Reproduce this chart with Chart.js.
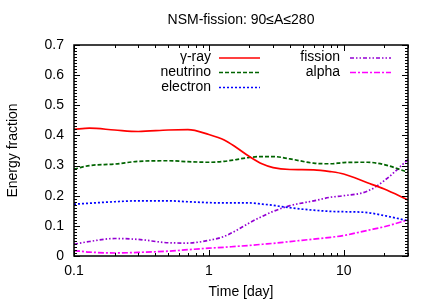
<!DOCTYPE html>
<html>
<head>
<meta charset="utf-8">
<script src="https://cdn.jsdelivr.net/npm/chart.js@4/dist/chart.umd.min.js"></script>
<style>
  html, body { margin: 0; padding: 0; background: #fff; }
  #wrap { width: 436px; height: 305px; }
</style>
</head>
<body>
<div id="wrap"><canvas id="graph"></canvas></div>
<script>
const days     = [0.1, 0.13, 0.2, 0.3, 0.5, 0.7, 1, 1.3, 1.6, 2, 2.5, 3, 4, 6, 8, 10, 15, 20, 30];
const gammaRay = [0.420, 0.424, 0.418, 0.413, 0.418, 0.419, 0.403, 0.385, 0.360, 0.330, 0.305, 0.293, 0.287, 0.286, 0.280, 0.272, 0.243, 0.222, 0.186];
const neutrino = [0.288, 0.300, 0.305, 0.314, 0.316, 0.313, 0.311, 0.314, 0.320, 0.327, 0.330, 0.330, 0.322, 0.308, 0.306, 0.310, 0.311, 0.303, 0.278];
const electron = [0.172, 0.175, 0.180, 0.183, 0.183, 0.180, 0.177, 0.176, 0.176, 0.176, 0.172, 0.168, 0.160, 0.152, 0.148, 0.147, 0.144, 0.134, 0.117];
const fission  = [0.039, 0.048, 0.058, 0.055, 0.044, 0.043, 0.052, 0.065, 0.085, 0.110, 0.132, 0.148, 0.167, 0.183, 0.195, 0.200, 0.215, 0.250, 0.320];
const alpha    = [0.018, 0.013, 0.010, 0.012, 0.016, 0.021, 0.026, 0.029, 0.032, 0.035, 0.039, 0.042, 0.048, 0.056, 0.062, 0.068, 0.085, 0.097, 0.120];

const yTicks = [0, 0.1, 0.2, 0.3, 0.4, 0.5, 0.6, 0.7];
const xTicks = [0.1, 1, 10];

const FONT = "'Liberation Sans', Arial, sans-serif";

function pts(values) {
    return days.map((d, i) => ({x: d, y: values[i]}));
}

function series(label, values, color, dash) {
    return {
        label: label,
        data: pts(values),
        borderColor: color,
        backgroundColor: color,
        borderWidth: 1.7,
        borderDash: dash,
        pointRadius: 0,
        cubicInterpolationMode: "monotone",
        fill: false
    };
}

// gnuplot style frame: box, inward ticks on all sides, in-plot legend, title
const frame = {
    id: "frame",
    afterDatasetsDraw(chart) {
        const ctx = chart.ctx;
        const a = chart.chartArea;
        const xs = chart.scales.x, ys = chart.scales.y;
        ctx.save();
        ctx.strokeStyle = "#000";
        ctx.lineWidth = 1;
        ctx.setLineDash([]);
        ctx.beginPath();

        // y ticks
        for (let i = 0; i <= 70; i++) {
            const v = i / 100;
            const py = Math.round(ys.getPixelForValue(v)) + 0.5;
            const len = (i % 10 === 0) ? 6 : 3;
            ctx.moveTo(a.left, py); ctx.lineTo(a.left + len, py);
            ctx.moveTo(a.right, py); ctx.lineTo(a.right - len, py);
        }
        // x ticks (log)
        for (let dec = 0.1; dec < 100; dec *= 10) {
            for (let m = 1; m <= 9; m++) {
                const v = dec * m;
                if (v < xs.min - 1e-9 || v > xs.max + 1e-9) continue;
                const px = Math.round(xs.getPixelForValue(v)) + 0.5;
                const len = (m === 1) ? 6 : 3;
                ctx.moveTo(px, a.bottom); ctx.lineTo(px, a.bottom - len);
                ctx.moveTo(px, a.top); ctx.lineTo(px, a.top + len);
            }
        }
        ctx.stroke();

        ctx.lineWidth = 1.5;
        ctx.strokeRect(a.left, a.top, a.right - a.left, a.bottom - a.top);

        // legend
        ctx.font = "14px " + FONT;
        ctx.textAlign = "right";
        ctx.textBaseline = "middle";
        const cols = [{tx: 211, l0: 219, l1: 260}, {tx: 340, l0: 350, l1: 391}];
        const rows = [57.5, 72, 87];
        chart.data.datasets.forEach((ds, i) => {
            const c = cols[i < 3 ? 0 : 1];
            const y = rows[i < 3 ? i : i - 3];
            ctx.fillStyle = "#000";
            ctx.fillText(ds.label, c.tx, y);
            ctx.strokeStyle = ds.borderColor;
            ctx.lineWidth = ds.borderWidth;
            ctx.setLineDash(ds.borderDash || []);
            ctx.beginPath();
            ctx.moveTo(c.l0, y + 0.5);
            ctx.lineTo(c.l1, y + 0.5);
            ctx.stroke();
        });
        ctx.setLineDash([]);

        // title
        ctx.fillStyle = "#000";
        ctx.textAlign = "center";
        ctx.fillText("NSM-fission: 90\u2264A\u2264280", (a.left + a.right) / 2, 20);
        ctx.restore();
    }
};

const graph = document.getElementById("graph").getContext("2d");

const chart = new Chart(graph, {
    type: "line",
    data: {
        datasets: [
            series("\u03b3-ray", gammaRay, "#ff0000", []),
            series("neutrino", neutrino, "#006400", [4, 2]),
            series("electron", electron, "#0000ff", [2, 2]),
            series("fission", fission, "#9400d3", [4, 2, 1.5, 2, 1.5, 2]),
            series("alpha", alpha, "#ff00ff", [6, 2, 2, 2])
        ]
    },
    options: {
        responsive: true,
        maintainAspectRatio: false,
        animation: false,
        layout: { padding: { top: 45, right: 28, left: 0, bottom: 0 } },
        plugins: {
            legend: { display: false },
            title: { display: false },
            tooltip: { enabled: false }
        },
        scales: {
            x: {
                type: "logarithmic",
                min: 0.1,
                max: 30,
                grid: { display: false, drawTicks: false },
                border: { display: false },
                afterBuildTicks: scale => {
                    scale.ticks = xTicks.map(v => ({value: v}));
                },
                ticks: {
                    color: "#000",
                    font: { family: FONT, size: 14 },
                    padding: 7,
                    maxRotation: 0,
                    autoSkip: false,
                    callback: v => String(v)
                },
                title: {
                    display: true,
                    text: "Time [day]",
                    color: "#000",
                    font: { family: FONT, size: 14 },
                    padding: { top: 0, bottom: 4 }
                },
                afterFit: scale => { scale.height = 49; }
            },
            y: {
                min: 0,
                max: 0.7,
                grid: { display: false, drawTicks: false },
                border: { display: false },
                afterBuildTicks: scale => {
                    scale.ticks = yTicks.map(v => ({value: v}));
                },
                ticks: {
                    color: "#000",
                    font: { family: FONT, size: 14 },
                    padding: 10,
                    callback: v => String(Math.round(v * 10) / 10)
                },
                title: {
                    display: true,
                    text: "Energy fraction",
                    color: "#000",
                    font: { family: FONT, size: 14 },
                    padding: { top: 5, bottom: 0 }
                },
                afterFit: scale => { scale.width = 74; }
            }
        }
    },
    plugins: [frame]
});
</script>
</body>
</html>
